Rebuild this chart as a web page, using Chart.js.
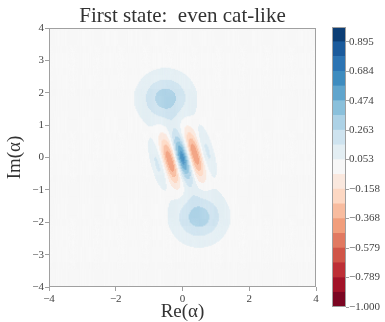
<!DOCTYPE html>
<html>
<head>
<meta charset="utf-8">
<script src="https://cdn.jsdelivr.net/npm/chart.js@4/dist/chart.umd.min.js"></script>
<style>
  body { margin: 0; background: #fff; }
  #wrap { position: relative; width: 385px; height: 322px; }
  #mainChart { position: absolute; left: 0; top: 0; }
  #cbarChart { position: absolute; left: 325px; top: 0; }
</style>
</head>
<body>
<div id="wrap">
  <canvas id="mainChart" width="330" height="322"></canvas>
  <canvas id="cbarChart" width="60" height="322"></canvas>
</div>
<script>
// values
const titleText = 'First state:  even cat-like';
const catAlpha = [0.5, -1.83];          // Re, Im of alpha: the blobs sit at +alpha and -alpha
const axisRange = [-4, 4];
const gridStep = 0.03125;
const xTicks = [-4, -2, 0, 2, 4];
const yTicks = [-4, -3, -2, -1, 0, 1, 2, 3, 4];
const levelRange = [-1, 1];
const levelCount = 19;                   // filled bands between -1 and 1
const cbarTicks = [-1.000, -0.789, -0.579, -0.368, -0.158, 0.053, 0.263, 0.474, 0.684, 0.895];
const rdbu = ['#67001f', '#b2182b', '#d6604d', '#f4a582', '#fddbc7', '#f7f7f7',
              '#d1e5f0', '#92c5de', '#4393c3', '#2166ac', '#053061'];

const serif = '"Liberation Serif", "DejaVu Serif", serif';
const frameColor = '#a0a0a0';
const textColor = '#444';

function hexToRgb(h) {
    return [1, 3, 5].map(i => parseInt(h.substr(i, 2), 16));
}

function cmap(t) {
    const pos = Math.min(Math.max(t, 0), 1) * (rdbu.length - 1);
    const i = Math.min(Math.floor(pos), rdbu.length - 2);
    const f = pos - i;
    const a = hexToRgb(rdbu[i]);
    const b = hexToRgb(rdbu[i + 1]);
    const c = a.map((v, k) => Math.round(v + (b[k] - v) * f));
    return 'rgb(' + c.join(',') + ')';
}

const bandWidth = (levelRange[1] - levelRange[0]) / levelCount;
const bandColors = [];
for (let i = 0; i < levelCount; i++) {
    const mid = levelRange[0] + (i + 0.5) * bandWidth;
    bandColors.push(cmap((mid - levelRange[0]) / (levelRange[1] - levelRange[0])));
}

// Wigner function of an even cat state |alpha> + |-alpha>
function wigner(x, y) {
    const ax = catAlpha[0], ay = catAlpha[1];
    const n = 1 / (2 * (1 + Math.exp(-2 * (ax * ax + ay * ay))));
    const d1 = (x - ax) ** 2 + (y - ay) ** 2;
    const d2 = (x + ax) ** 2 + (y + ay) ** 2;
    const d0 = x * x + y * y;
    const fringe = 2 * Math.exp(-2 * d0) * Math.cos(4 * (y * ax - x * ay));
    return n * (2 / Math.PI) * (Math.exp(-2 * d1) + Math.exp(-2 * d2) + fringe);
}

const cells = [];
const cellColors = [];
const nCells = Math.round((axisRange[1] - axisRange[0]) / gridStep);
for (let j = 0; j < nCells; j++) {
    const y = axisRange[0] + (j + 0.5) * gridStep;
    for (let i = 0; i < nCells; i++) {
        const x = axisRange[0] + (i + 0.5) * gridStep;
        const w = wigner(x, y);
        let band = Math.floor((w - levelRange[0]) / bandWidth);
        band = Math.max(0, Math.min(levelCount - 1, band));
        cells.push({ x: x, y: y });
        cellColors.push(bandColors[band]);
    }
}

function fmtMinus(v, digits) {
    const s = Math.abs(v).toFixed(digits);
    return v < 0 ? '\u2212' + s : s;
}

const framePlugin = {
    id: 'frame',
    afterDatasetsDraw(chart) {
        const a = chart.chartArea;
        const ctx = chart.ctx;
        ctx.save();
        ctx.strokeStyle = frameColor;
        ctx.lineWidth = 1;
        ctx.strokeRect(Math.round(a.left) + 0.5, Math.round(a.top) + 0.5,
            Math.round(a.right - a.left) - 1, Math.round(a.bottom - a.top) - 1);
        ctx.restore();
    }
};

const titlePlugin = {
    id: 'centredTitle',
    afterDraw(chart) {
        const a = chart.chartArea;
        const ctx = chart.ctx;
        ctx.save();
        ctx.font = '21px ' + serif;
        ctx.fillStyle = '#333';
        ctx.textAlign = 'center';
        ctx.textBaseline = 'middle';
        ctx.fillText(titleText, (a.left + a.right) / 2, 16);
        ctx.restore();
    }
};

new Chart(document.getElementById('mainChart').getContext('2d'), {
    type: 'scatter',
    data: {
        datasets: [{
            data: cells,
            pointStyle: 'rect',
            pointRadius: 0.95,
            pointHoverRadius: 0.95,
            borderWidth: 0,
            backgroundColor: cellColors,
            clip: 0
        }]
    },
    options: {
        responsive: false,
        animation: false,
        events: [],
        layout: { padding: { left: 0, right: 14, top: 28, bottom: 0 } },
        plugins: {
            legend: { display: false },
            tooltip: { enabled: false }
        },
        scales: {
            x: {
                type: 'linear',
                min: axisRange[0],
                max: axisRange[1],
                afterBuildTicks: axis => { axis.ticks = xTicks.map(v => ({ value: v })); },
                afterFit: axis => { axis.height = 35; },
                ticks: {
                    color: textColor,
                    font: { family: serif, size: 11 },
                    padding: 2,
                    maxRotation: 0,
                    callback: v => fmtMinus(v, 0)
                },
                grid: { drawOnChartArea: false, drawTicks: true, tickLength: 4, color: frameColor },
                border: { display: false },
                title: {
                    display: true,
                    text: 'Re(\u03b1)',
                    color: '#333',
                    font: { family: serif, size: 19, lineHeight: 1 },
                    padding: { top: 0, bottom: 0 }
                }
            },
            y: {
                type: 'linear',
                min: axisRange[0],
                max: axisRange[1],
                afterBuildTicks: axis => { axis.ticks = yTicks.map(v => ({ value: v })); },
                afterFit: axis => { axis.width = 49; },
                ticks: {
                    color: textColor,
                    font: { family: serif, size: 11 },
                    padding: 1,
                    callback: v => fmtMinus(v, 0)
                },
                grid: { drawOnChartArea: false, drawTicks: true, tickLength: 4, color: frameColor },
                border: { display: false },
                title: {
                    display: true,
                    text: 'Im(\u03b1)',
                    color: '#333',
                    font: { family: serif, size: 19, lineHeight: 1 },
                    padding: { top: 6, bottom: 0 }
                }
            }
        }
    },
    plugins: [framePlugin, titlePlugin]
});

// colour bar: one floating bar per filled band
const cbarDatasets = bandColors.map((c, i) => ({
    data: [[levelRange[0] + i * bandWidth, levelRange[0] + (i + 1) * bandWidth]],
    backgroundColor: c,
    borderWidth: 0,
    grouped: false,
    barPercentage: 1,
    categoryPercentage: 1
}));

new Chart(document.getElementById('cbarChart').getContext('2d'), {
    type: 'bar',
    data: { labels: [''], datasets: cbarDatasets },
    options: {
        responsive: false,
        animation: false,
        events: [],
        layout: { padding: { left: 7, right: 0, top: 27, bottom: 15 } },
        plugins: {
            legend: { display: false },
            tooltip: { enabled: false }
        },
        scales: {
            x: { display: false },
            y: {
                position: 'right',
                min: levelRange[0],
                max: levelRange[1],
                afterBuildTicks: axis => { axis.ticks = cbarTicks.map(v => ({ value: v })); },
                afterFit: axis => { axis.width = 39; },
                ticks: {
                    color: textColor,
                    font: { family: serif, size: 11 },
                    padding: 0,
                    callback: v => fmtMinus(v, 3)
                },
                grid: { drawOnChartArea: false, drawTicks: true, tickLength: 3, color: frameColor },
                border: { display: false }
            }
        }
    },
    plugins: [framePlugin]
});
</script>
</body>
</html>
